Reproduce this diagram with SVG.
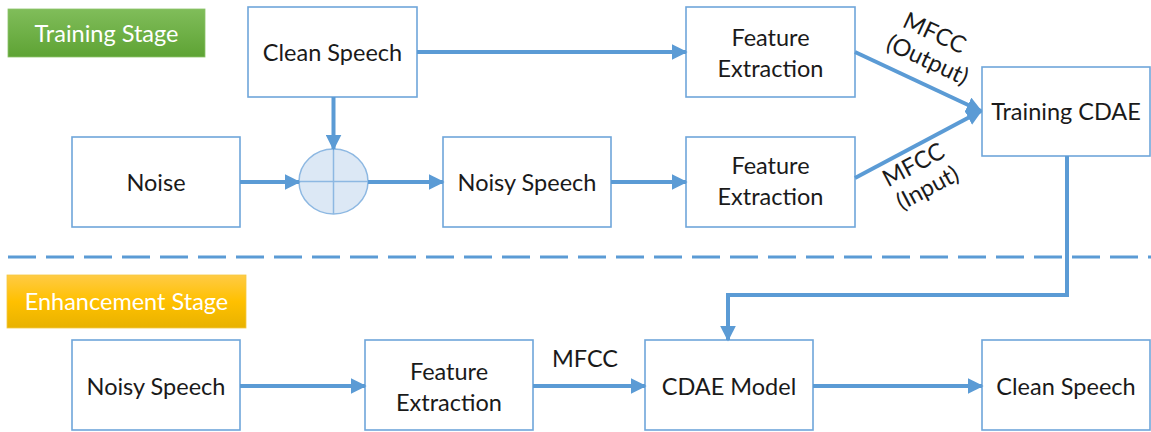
<svg xmlns="http://www.w3.org/2000/svg" width="1151" height="432" viewBox="0 0 1151 432">
  <defs>
    <linearGradient id="gGreen" x1="0" y1="0" x2="0" y2="1">
      <stop offset="0" stop-color="#80bd5a"/>
      <stop offset="1" stop-color="#5ea334"/>
    </linearGradient>
    <linearGradient id="gGold" x1="0" y1="0" x2="0" y2="1">
      <stop offset="0" stop-color="#ffcb45"/>
      <stop offset="0.5" stop-color="#ffc000"/>
      <stop offset="1" stop-color="#e8b200"/>
    </linearGradient>
    <marker id="arr" viewBox="0 0 10 10" refX="9" refY="5" markerWidth="4" markerHeight="4" orient="auto" markerUnits="strokeWidth">
      <path d="M0,0 L10,5 L0,10 Z" fill="#5b9bd5"/>
    </marker>
  </defs>
  <style>
    .box { fill: #ffffff; stroke: #6fa6da; stroke-width: 1.6; }
    .lbl { font-family: Lato, "Open Sans", "Liberation Sans", sans-serif; font-size: 23.5px; fill: #1a1a1a; text-anchor: middle; dominant-baseline: central; }
    .stage { font-family: Lato, "Open Sans", "Liberation Sans", sans-serif; font-size: 23.5px; fill: #ffffff; text-anchor: middle; dominant-baseline: central; }
    .conn { fill: none; stroke: #5b9bd5; stroke-width: 4; marker-end: url(#arr); }
  </style>

  <!-- stage banners -->
  <g id="training-stage">
    <rect x="8" y="9" width="197" height="48" fill="url(#gGreen)" stroke="#8cc46a" stroke-width="0.8"/>
    <text class="stage" x="106.5" y="33">Training Stage</text>
  </g>
  <g id="enhancement-stage">
    <rect x="7" y="275" width="239" height="53" fill="url(#gGold)" stroke="#f5c842" stroke-width="0.8"/>
    <text class="stage" x="126.5" y="301">Enhancement Stage</text>
  </g>

  <!-- separator between stages -->
  <line x1="8" y1="257" x2="1151" y2="257" stroke="#5b9bd5" stroke-width="3" stroke-dasharray="28 10"/>

  <!-- training nodes -->
  <g id="clean-speech-train">
    <rect class="box" x="248" y="7" width="169" height="90"/>
    <text class="lbl" x="332.5" y="52">Clean Speech</text>
  </g>
  <g id="feature-extraction-clean">
    <rect class="box" x="686" y="7" width="169" height="90"/>
    <text class="lbl" x="770.5" y="37">Feature</text>
    <text class="lbl" x="770.5" y="68">Extraction</text>
  </g>
  <g id="training-cdae">
    <rect class="box" x="982" y="67" width="168" height="89"/>
    <text class="lbl" x="1066" y="111">Training CDAE</text>
  </g>
  <g id="noise">
    <rect class="box" x="72" y="137" width="168" height="90"/>
    <text class="lbl" x="156" y="182">Noise</text>
  </g>
  <g id="mixer">
    <ellipse cx="333.5" cy="181.5" rx="34.5" ry="32.5" fill="#dce8f5" stroke="#8db8e2" stroke-width="1.5"/>
    <line x1="299" y1="181.5" x2="368" y2="181.5" stroke="#8db8e2" stroke-width="1.5"/>
    <line x1="333.5" y1="149" x2="333.5" y2="214" stroke="#8db8e2" stroke-width="1.5"/>
  </g>
  <g id="noisy-speech-train">
    <rect class="box" x="443" y="137" width="168" height="90"/>
    <text class="lbl" x="527" y="182">Noisy Speech</text>
  </g>
  <g id="feature-extraction-noisy">
    <rect class="box" x="686" y="137" width="169" height="90"/>
    <text class="lbl" x="770.5" y="165">Feature</text>
    <text class="lbl" x="770.5" y="196">Extraction</text>
  </g>

  <!-- enhancement nodes -->
  <g id="noisy-speech-enh">
    <rect class="box" x="72" y="340" width="168" height="90"/>
    <text class="lbl" x="156" y="386">Noisy Speech</text>
  </g>
  <g id="feature-extraction-enh">
    <rect class="box" x="365" y="340" width="168" height="90"/>
    <text class="lbl" x="449" y="371">Feature</text>
    <text class="lbl" x="449" y="402">Extraction</text>
  </g>
  <g id="cdae-model">
    <rect class="box" x="645" y="340" width="168" height="90"/>
    <text class="lbl" x="729" y="386">CDAE Model</text>
  </g>
  <g id="clean-speech-enh">
    <rect class="box" x="982" y="340" width="168" height="90"/>
    <text class="lbl" x="1066" y="386">Clean Speech</text>
  </g>

  <!-- connectors -->
  <g id="connectors">
    <line class="conn" x1="417" y1="52" x2="686" y2="52"/>
    <line class="conn" x1="333.5" y1="97" x2="333.5" y2="149"/>
    <line class="conn" x1="240" y1="182" x2="299" y2="182"/>
    <line class="conn" x1="368" y1="182" x2="443" y2="182"/>
    <line class="conn" x1="611" y1="182" x2="686" y2="182"/>
    <line class="conn" x1="855" y1="52" x2="981" y2="111"/>
    <line class="conn" x1="855" y1="178" x2="981" y2="111"/>
    <polyline class="conn" points="1067,156 1067,295 728,295 728,340"/>
    <line class="conn" x1="240" y1="386" x2="365" y2="386"/>
    <line class="conn" x1="533" y1="386" x2="645" y2="386"/>
    <line class="conn" x1="813" y1="386" x2="982" y2="386"/>
  </g>

  <!-- connector labels -->
  <g id="edge-labels">
    <text class="lbl" transform="translate(935,32) rotate(25)">MFCC</text>
    <text class="lbl" transform="translate(928,59) rotate(25)">(Output)</text>
    <text class="lbl" transform="translate(913,164) rotate(-28)">MFCC</text>
    <text class="lbl" transform="translate(927,187) rotate(-28)">(Input)</text>
    <text class="lbl" x="585" y="358">MFCC</text>
  </g>
</svg>
